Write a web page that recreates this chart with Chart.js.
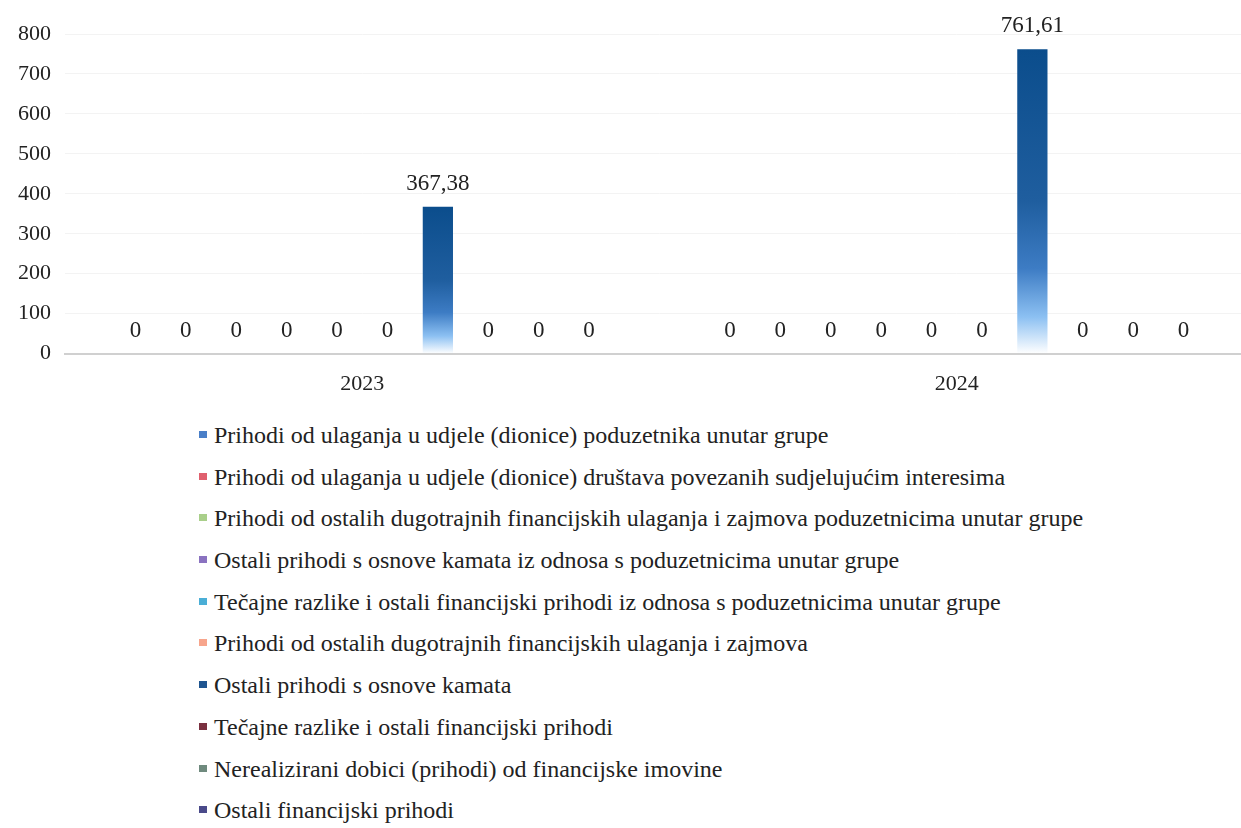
<!DOCTYPE html>
<html lang="hr">
<head>
  <meta charset="UTF-8" />
  <title>Financijski prihodi</title>
  <script src="https://cdn.jsdelivr.net/npm/chart.js"></script>
  <style>
    body {
      margin: 0;
      background: #fff;
      font-family: "Liberation Serif", "Times New Roman", Times, "DejaVu Serif", serif;
      width: 1241px;
      height: 828px;
      overflow: hidden;
      position: relative;
    }

    .chart-box {
      position: relative;
      width: 1254px;
      height: 406px;
    }

    #legend {
      list-style: none;
      margin: 0;
      padding: 0;
      position: absolute;
      left: 199px;
      top: 421px;
    }

    #legend li {
      height: 41.7px;
      line-height: 28px;
      font-size: 24px;
      color: #222;
      white-space: nowrap;
    }

    #legend .box {
      display: inline-block;
      width: 8px;
      height: 7px;
      margin-right: 7px;
      vertical-align: 5px;
    }
  </style>
</head>
<body>
  <div class="chart-box">
    <canvas id="myChart"></canvas>
  </div>
  <ul id="legend"></ul>

  <script>
    const years = ["2023", "2024"];

    const seriesNames = [
      "Prihodi od ulaganja u udjele (dionice) poduzetnika unutar grupe",
      "Prihodi od ulaganja u udjele (dionice) društava povezanih sudjelujućim interesima",
      "Prihodi od ostalih dugotrajnih financijskih ulaganja i zajmova poduzetnicima unutar grupe",
      "Ostali prihodi s osnove kamata iz odnosa s poduzetnicima unutar grupe",
      "Tečajne razlike i ostali financijski prihodi iz odnosa s poduzetnicima unutar grupe",
      "Prihodi od ostalih dugotrajnih financijskih ulaganja i zajmova",
      "Ostali prihodi s osnove kamata",
      "Tečajne razlike i ostali financijski prihodi",
      "Nerealizirani dobici (prihodi) od financijske imovine",
      "Ostali financijski prihodi"
    ];

    // values per series: [2023, 2024]
    const seriesValues = [
      [0, 0],
      [0, 0],
      [0, 0],
      [0, 0],
      [0, 0],
      [0, 0],
      [367.38, 761.61],
      [0, 0],
      [0, 0],
      [0, 0]
    ];

    const seriesColors = [
      "#4a7fc8", "#e0606e", "#a9cf8a", "#8a72c0", "#4aaed6",
      "#f7a58c", "#1f5590", "#7a3040", "#6f8a7e", "#4a4a8a"
    ];

    const yTicks = [0, 100, 200, 300, 400, 500, 600, 700, 800];

    const serif = '"Liberation Serif", "Times New Roman", Times, "DejaVu Serif", serif';

    // each bar fades from dark blue at its top to white at its base
    function barGradient(context, color) {
      const chart = context.chart;
      const y = chart.scales.y;
      const value = context.raw;
      if (!y || !value) return color;
      const top = y.getPixelForValue(value);
      const base = y.getPixelForValue(0);
      if (!isFinite(top) || !isFinite(base) || top === base) return color;
      const g = chart.ctx.createLinearGradient(0, top, 0, base);
      g.addColorStop(0, "#0b4d8c");
      g.addColorStop(0.5, "#1f5e9f");
      g.addColorStop(0.72, "#3d7cc4");
      g.addColorStop(0.88, "#8cc0f2");
      g.addColorStop(1, "#ffffff");
      return g;
    }

    const datasets = seriesNames.map((name, i) => ({
      label: name,
      data: seriesValues[i],
      backgroundColor: ctx => barGradient(ctx, seriesColors[i]),
      borderWidth: 0,
      barPercentage: 0.6,
      categoryPercentage: 0.848
    }));

    // value labels above every bar, decimal comma
    const valueLabels = {
      id: "valueLabels",
      afterDatasetsDraw(chart) {
        const ctx = chart.ctx;
        ctx.save();
        ctx.font = "23px " + serif;
        ctx.fillStyle = "#222";
        ctx.textAlign = "center";
        ctx.textBaseline = "middle";
        chart.data.datasets.forEach((ds, i) => {
          chart.getDatasetMeta(i).data.forEach((bar, j) => {
            const v = ds.data[j];
            const text = Number.isInteger(v) ? String(v) : v.toFixed(2).replace(".", ",");
            ctx.fillText(text, bar.x, bar.y - 23);
          });
        });
        ctx.restore();
      }
    };

    // legend list, one entry per line
    const legend = document.getElementById("legend");
    seriesNames.forEach((name, i) => {
      const li = document.createElement("li");
      const box = document.createElement("span");
      box.className = "box";
      box.style.background = seriesColors[i];
      li.appendChild(box);
      li.appendChild(document.createTextNode(name));
      legend.appendChild(li);
    });

    const chart = new Chart(document.getElementById("myChart"), {
      type: "bar",
      data: { labels: years, datasets: datasets },
      options: {
        responsive: true,
        maintainAspectRatio: false,
        animation: false,
        layout: { padding: { top: 34, right: 0, left: 4, bottom: 0 } },
        plugins: {
          legend: { display: false },
          tooltip: { enabled: false }
        },
        scales: {
          x: {
            grid: { display: false },
            border: { color: "#d0d0d0", width: 2 },
            ticks: { color: "#222", font: { family: serif, size: 22 }, padding: 9 }
          },
          y: {
            min: 0,
            max: 800,
            afterBuildTicks: axis => { axis.ticks = yTicks.map(v => ({ value: v })); },
            grid: { color: "#f3f3f3", drawTicks: false },
            border: { display: false },
            ticks: { color: "#222", font: { family: serif, size: 22 }, padding: 14 }
          }
        }
      },
      plugins: [valueLabels]
    });
  </script>
</body>
</html>
